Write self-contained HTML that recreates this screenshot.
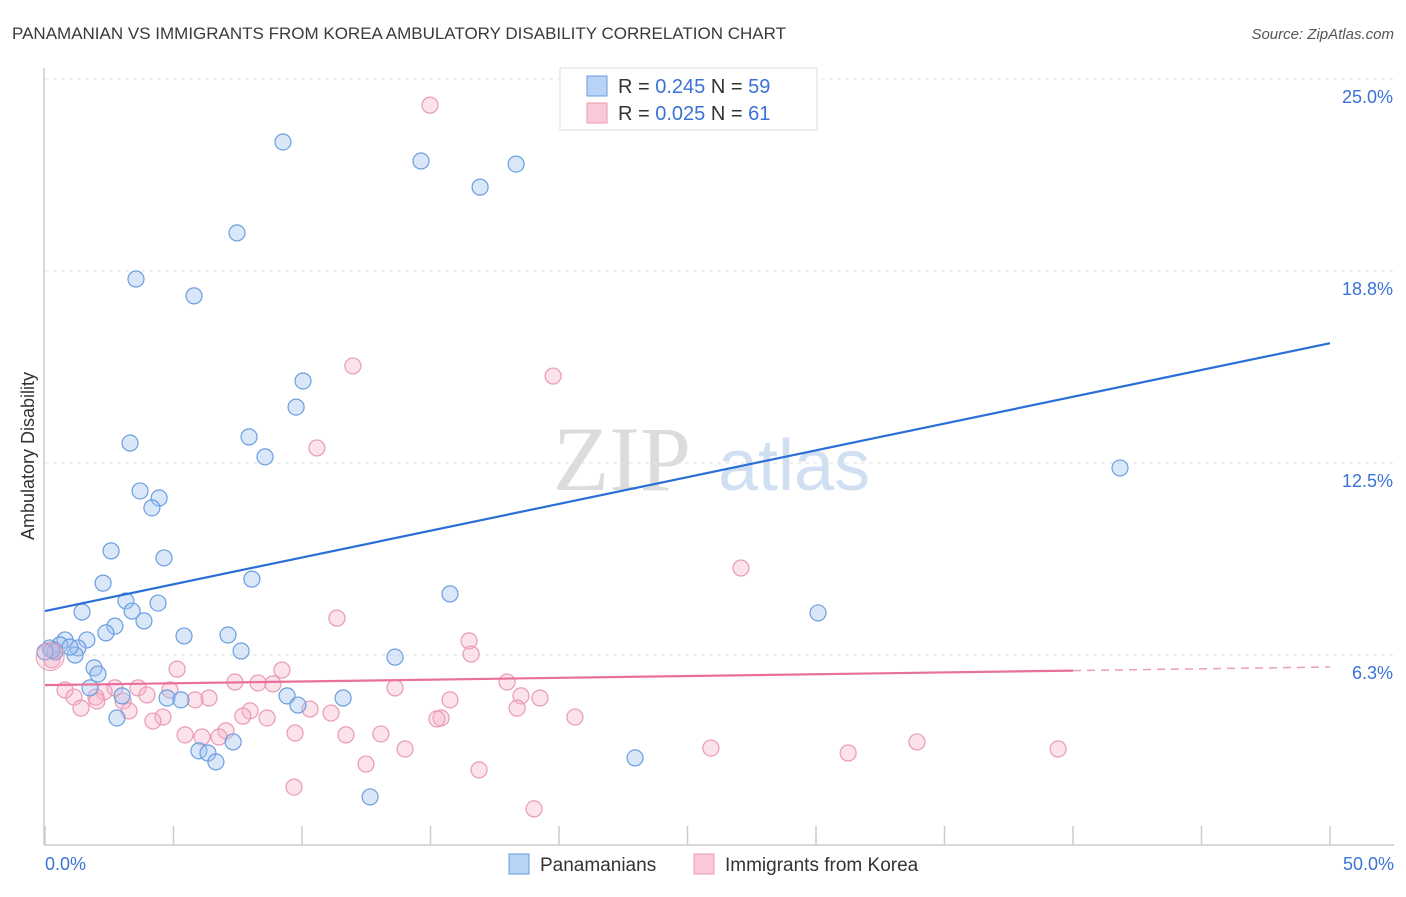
<!DOCTYPE html>
<html><head><meta charset="utf-8"><style>
body{margin:0;background:#fff;width:1406px;height:892px;overflow:hidden;font-family:"Liberation Sans",sans-serif}
</style></head><body>
<svg id="c" width="1406" height="892" xmlns="http://www.w3.org/2000/svg" font-family="Liberation Sans, sans-serif">
<text x="12" y="39" font-size="17" fill="#3a3a3a">PANAMANIAN VS IMMIGRANTS FROM KOREA AMBULATORY DISABILITY CORRELATION CHART</text>
<text x="1394" y="39" font-size="15" fill="#555" font-style="italic" text-anchor="end">Source: ZipAtlas.com</text>
<g><text x="553" y="490" font-size="92" fill="#d4d4d4" font-family="Liberation Serif, serif" opacity="0.8">ZIP</text><text x="718" y="490" font-size="72" fill="#c6d8ef" opacity="0.8">atlas</text></g>
<g id="grid"></g><g id="axes"></g><g id="marks"></g>
<text transform="translate(34,456) rotate(-90)" font-size="18" fill="#333" text-anchor="middle">Ambulatory Disability</text>
<text x="45" y="870" font-size="18" fill="#3a72d8">0.0%</text>
<text x="1394" y="870" font-size="18" fill="#3a72d8" text-anchor="end">50.0%</text>
<g>
<rect x="560" y="68" width="257" height="62" fill="#fff" stroke="#ddd"/>
<rect x="587" y="76" width="20" height="20" fill="#b8d3f5" stroke="#6a9ee0"/>
<rect x="587" y="103" width="20" height="20" fill="#f9c9d8" stroke="#e99ab4"/>
<text x="618" y="93" font-size="20" fill="#333">R = <tspan fill="#3a72d8">0.245</tspan>    N = <tspan fill="#3a72d8">59</tspan></text>
<text x="618" y="120" font-size="20" fill="#333">R = <tspan fill="#3a72d8">0.025</tspan>    N =  <tspan fill="#3a72d8">61</tspan></text>
</g>
<g>
<rect x="509" y="854" width="20" height="20" fill="#b8d3f5" stroke="#6a9ee0"/>
<text x="540" y="871" font-size="19" fill="#333">Panamanians</text>
<rect x="694" y="854" width="20" height="20" fill="#f9c9d8" stroke="#e99ab4"/>
<text x="725" y="871" font-size="19" fill="#333">Immigrants from Korea</text>
</g>
</svg>
<script>
const yTicks=[25.0,18.8,12.5,6.3];
const yTickLabels=["25.0%","18.8%","12.5%","6.3%"];
const xTicks=[0,5,10,15,20,25,30,35,40,45,50];
const blueX=[9.26,14.63,18.33,16.93,7.47,3.54,5.80,10.04,9.77,7.94,3.31,8.56,3.70,4.44,4.16,2.57,4.63,2.26,8.05,3.15,4.40,3.39,1.44,3.85,2.72,2.37,5.41,7.12,1.63,0.78,0.58,0.19,0.39,1.28,1.17,7.63,13.62,15.76,30.08,41.83,1.91,2.06,1.75,3.00,4.75,5.29,9.42,11.60,9.84,2.80,7.32,5.99,6.34,6.65,22.96,12.65,0.97,0.27,0.0];
const blueY=[22.95,22.33,22.23,21.48,19.99,18.49,17.94,15.17,14.32,13.35,13.15,12.70,11.59,11.36,11.04,9.64,9.41,8.59,8.72,8.01,7.94,7.68,7.65,7.36,7.19,6.97,6.87,6.90,6.74,6.74,6.58,6.48,6.35,6.48,6.25,6.38,6.18,8.24,7.62,12.34,5.83,5.63,5.18,4.92,4.85,4.79,4.92,4.85,4.62,4.20,3.42,3.13,3.06,2.77,2.90,1.63,6.51,6.41,6.35];
const pinkX=[14.98,11.98,19.77,10.58,27.08,11.36,16.50,16.58,5.14,9.22,7.39,8.29,8.87,13.62,17.98,0.78,2.72,3.62,4.86,2.30,1.13,1.98,3.97,6.38,5.84,3.04,15.76,18.52,19.26,2.02,1.40,3.27,7.98,10.31,11.13,18.37,4.59,4.20,7.70,8.64,15.41,15.25,20.62,7.04,5.45,6.11,6.77,9.73,11.71,13.07,14.01,25.91,33.93,31.25,39.42,12.49,16.89,9.69,19.03,0.27,0.39];
const pinkY=[24.15,15.66,15.33,12.99,9.08,7.45,6.71,6.28,5.79,5.76,5.37,5.34,5.31,5.18,5.37,5.11,5.18,5.18,5.11,5.05,4.88,4.88,4.95,4.85,4.79,4.75,4.79,4.92,4.85,4.75,4.52,4.43,4.43,4.49,4.36,4.52,4.23,4.10,4.26,4.20,4.20,4.17,4.23,3.78,3.65,3.58,3.58,3.71,3.65,3.68,3.19,3.22,3.42,3.06,3.19,2.70,2.51,1.95,1.24,6.09,6.41];
const blueTrend=[7.68,16.4];
const pinkTrend=[5.27,5.86];
const pinkSolidEnd=40;
const NS="http://www.w3.org/2000/svg";
const X=v=>45+v*25.7;
const Y=v=>847-v*30.72;
function mk(t,a,p){const e=document.createElementNS(NS,t);for(const k in a)e.setAttribute(k,a[k]);document.getElementById(p).appendChild(e);return e;}
yTicks.forEach((t,i)=>{
 const l=mk('line',{x1:45,x2:1394,y1:Y(t===6.3?6.25:t===18.8?18.75:t),y2:Y(t===6.3?6.25:t===18.8?18.75:t),stroke:'#e2e2e2','stroke-dasharray':'4,4'},'grid');
 
 
 const tx=mk('text',{x:1393,y:Y(t===6.3?6.25:t===18.8?18.75:t)+24,'font-size':18,fill:'#3a72d8','text-anchor':'end'},'grid');
 tx.textContent=yTickLabels[i];
 
 
});
const ax=mk('line',{x1:44,x2:44,y1:68,y2:845,stroke:'#ccc','stroke-width':1.5},'axes');


const bx=mk('line',{x1:44,x2:1394,y1:845,y2:845,stroke:'#ccc','stroke-width':1.5},'axes');


xTicks.forEach(t=>{const l=mk('line',{x1:X(t),x2:X(t),y1:826,y2:845,stroke:'#ccc','stroke-width':1.5},'axes');
 
 });
function pts(xs,ys,fill,stroke,name){xs.forEach((x,i)=>{const c=mk('circle',{cx:X(x),cy:Y(ys[i]),r:8,fill:fill,stroke:stroke,'stroke-width':1.2},'marks');
 
 });}
pts(pinkX,pinkY,'rgba(245,175,198,0.35)','#e99ab4','point-korea');
pts(blueX,blueY,'rgba(160,196,240,0.4)','#6a9ee0','point-panamanian');
const big=mk('circle',{cx:X(0.2),cy:Y(6.2),r:14,fill:'rgba(245,175,198,0.3)',stroke:'#e99ab4'},'marks');


const bl=mk('line',{x1:X(0),y1:Y(blueTrend[0]),x2:X(50),y2:Y(blueTrend[1]),stroke:'#2a6fd6','stroke-width':2.2},'marks');


const pm=(pinkTrend[1]-pinkTrend[0])/50;
const pl=mk('line',{x1:X(0),y1:Y(pinkTrend[0]),x2:X(pinkSolidEnd),y2:Y(pinkTrend[0]+pm*pinkSolidEnd),stroke:'#e8709a','stroke-width':2.2},'marks');


const pd=mk('line',{x1:X(pinkSolidEnd),y1:Y(pinkTrend[0]+pm*pinkSolidEnd),x2:X(50),y2:Y(pinkTrend[1]),stroke:'#e8a0b8','stroke-width':1.5,'stroke-dasharray':'8,6'},'marks');


</script>
</body></html>
